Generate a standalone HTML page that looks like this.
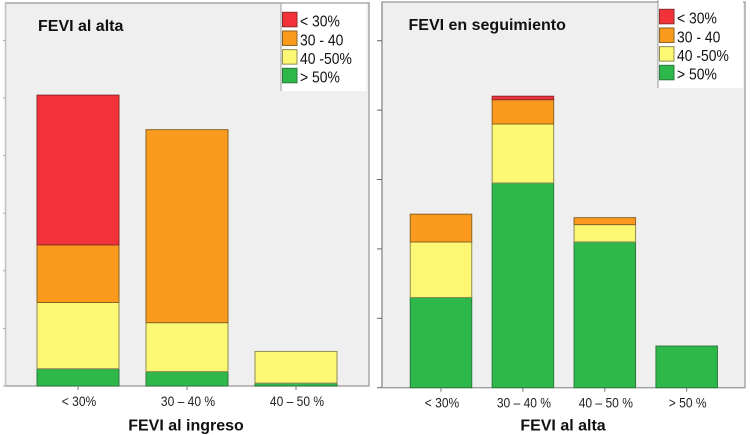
<!DOCTYPE html>
<html lang="es">
<head>
<meta charset="utf-8">
<title>FEVI</title>
<style>
html,body{margin:0;padding:0;background:#fff;}
svg{display:block;font-family:"Liberation Sans",sans-serif;filter:blur(0.35px);}
</style>
</head>
<body>
<svg id="chart" width="750" height="435" viewBox="0 0 750 435" xmlns="http://www.w3.org/2000/svg"></svg>
<script>
const legendLabels = ['< 30%', '30 - 40', '40 -50%', '> 50%'];
const seriesColors = ['#f13239', '#fb9a1c', '#fcf873', '#2fb84a'];
const seriesEdges = ['#8f2a2c', '#8a6526', '#8f8d52', '#2c7a3c'];

const leftTitle = 'FEVI al alta';
const leftAxisTitle = 'FEVI al ingreso';
const leftCategories = ['< 30%', '30 – 40 %', '40 – 50 %'];
const leftRed = [26, 0, 0];
const leftOrange = [10, 33.5, 0];
const leftYellow = [11.5, 8.5, 5.5];
const leftGreen = [3, 2.5, 0.5];
const leftTicks = [0, 10, 20, 30, 40, 50, 60];

const rightTitle = 'FEVI en seguimiento';
const rightAxisTitle = 'FEVI al alta';
const rightCategories = ['< 30%', '30 – 40 %', '40 – 50 %', '> 50 %'];
const rightRed = [0, 0.5, 0, 0];
const rightOrange = [4, 3.5, 1, 0];
const rightYellow = [8, 8.5, 2.5, 0];
const rightGreen = [13, 29.5, 21, 6];
const rightTicks = [0, 10, 20, 30, 40, 50];

const svg = document.getElementById('chart');
const NS = 'http://www.w3.org/2000/svg';

function make(tag, attrs, parent, text) {
  const el = document.createElementNS(NS, tag);
  for (const k in attrs) el.setAttribute(k, attrs[k]);
  if (text !== undefined) el.textContent = text;
  parent.appendChild(el);
  return el;
}

function narrowText(x, y, size, sx, attrs, parent, text) {
  const a = Object.assign({transform: 'translate(' + x + ' ' + y + ') scale(' + sx + ' 1)', x: 0, y: 0, 'font-size': size}, attrs);
  return make('text', a, parent, text);
}

function drawPanel(cfg) {
  const g = make('g', {}, svg);
  
  

  const plot = make('rect', {x: cfg.left, y: cfg.top, width: cfg.right - cfg.left, height: cfg.base - cfg.top, fill: '#efefef', stroke: '#9a9a9a', 'stroke-width': 1.3}, g);
  
  
  make('line', {x1: cfg.left, x2: cfg.left, y1: cfg.top, y2: cfg.base, stroke: cfg.leftBorder, 'stroke-width': 1.3}, g);

  const yScale = v => cfg.base - v * cfg.pxPerUnit;
  const xCenter = i => cfg.firstCenter + i * cfg.step;

  cfg.ticks.forEach(t => {
    const tick = make('line', {x1: cfg.left - cfg.tickLen, x2: cfg.left, y1: yScale(t), y2: yScale(t), stroke: cfg.tickColor, 'stroke-width': 1}, g);
    
    
  });

  cfg.categories.forEach((cat, i) => {
    const cx = xCenter(i);
    let cum = 0;
    const stack = [cfg.green[i], cfg.yellow[i], cfg.orange[i], cfg.red[i]];
    const colorIdx = [3, 2, 1, 0];
    stack.forEach((v, s) => {
      if (!v) return;
      const y1 = yScale(cum + v);
      const y0 = yScale(cum);
      const bar = make('rect', {x: cx - cfg.barW / 2, y: y1, width: cfg.barW, height: y0 - y1, fill: seriesColors[colorIdx[s]], stroke: seriesEdges[colorIdx[s]], 'stroke-width': 1}, g);
      
      
      cum += v;
    });
    const tick = make('line', {x1: cx, x2: cx, y1: cfg.base, y2: cfg.base + 4, stroke: '#777', 'stroke-width': 1}, g);
    
    
    const label = narrowText(cx + 1, cfg.base + 20, 14, 0.86, {'text-anchor': 'middle', fill: '#222'}, g, cat);
    
    
  });

  const title = make('text', {x: cfg.titleX, y: cfg.titleY, 'font-size': 16, 'font-weight': 'bold', fill: '#111'}, g, cfg.title);
  
  

  const axisTitle = make('text', {x: cfg.axisTitleX, y: 430.5, 'text-anchor': 'middle', 'font-size': 16, 'font-weight': 'bold', fill: '#111'}, g, cfg.axisTitle);
  
  

  const lg = make('g', {}, g);
  
  
  make('rect', {x: cfg.legendX, y: cfg.legendTop, width: cfg.legendW, height: cfg.legendH, fill: '#fff'}, lg);
  make('line', {x1: cfg.legendX, x2: cfg.legendX, y1: cfg.legendTop, y2: cfg.legendTop + cfg.legendH, stroke: '#999', 'stroke-width': 1}, lg);
  legendLabels.forEach((lab, i) => {
    const y = cfg.legendSwatchY + i * 18.67;
    const sw = make('rect', {x: cfg.legendX + 1.5, y: y, width: 14.5, height: 14.5, fill: seriesColors[i], stroke: seriesEdges[i], 'stroke-width': 1}, lg);
    
    
    const tx = narrowText(cfg.legendX + 19, y + 14.3, 16, 0.87, {fill: '#111'}, lg, lab);
    
    
  });
}

drawPanel({
  name: 'left-panel', left: 5.5, right: 369, top: 3, base: 386, pxPerUnit: 5.76,
  firstCenter: 78, step: 109, barW: 82,
  leftBorder: '#c4c4c4', tickColor: '#aaaaaa', tickLen: 2.5,
  categories: leftCategories, red: leftRed, orange: leftOrange, yellow: leftYellow, green: leftGreen, ticks: leftTicks,
  title: leftTitle, titleX: 38, titleY: 31, axisTitle: leftAxisTitle, axisTitleX: 186,
  legendX: 281, legendTop: 3.7, legendW: 85.5, legendH: 87.3, legendSwatchY: 12.3
});
drawPanel({
  name: 'right-panel', left: 382, right: 745, top: 2, base: 387.7, pxPerUnit: 6.94,
  firstCenter: 441, step: 81.9, barW: 61.5,
  leftBorder: '#9a9a9a', tickColor: '#666666', tickLen: 5,
  categories: rightCategories, red: rightRed, orange: rightOrange, yellow: rightYellow, green: rightGreen, ticks: rightTicks,
  title: rightTitle, titleX: 408.5, titleY: 30, axisTitle: rightAxisTitle, axisTitleX: 563,
  legendX: 658, legendTop: 0, legendW: 85, legendH: 88, legendSwatchY: 9.3
});
</script>
</body>
</html>
